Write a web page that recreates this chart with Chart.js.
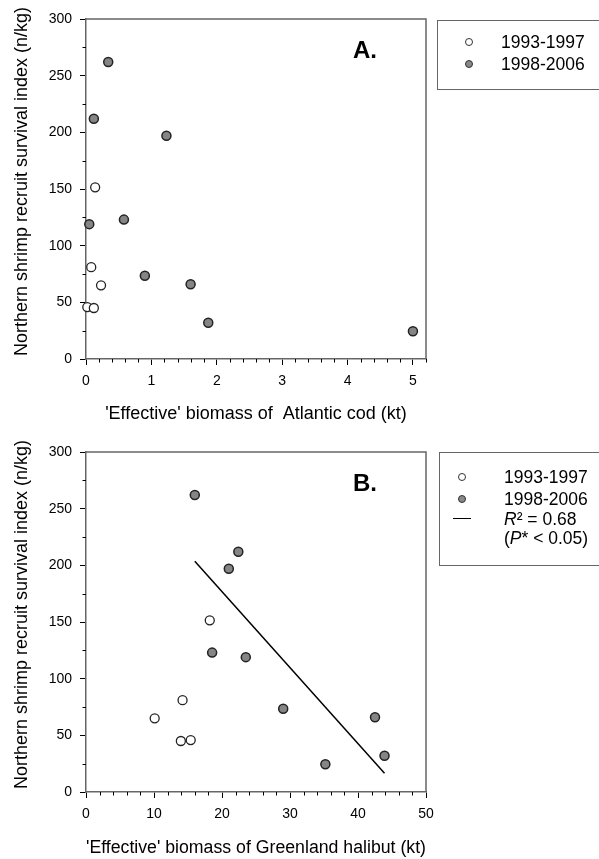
<!DOCTYPE html>
<html><head><meta charset="utf-8">
<script src="https://cdn.jsdelivr.net/npm/chart.js@4"></script>
<style>
body{margin:0;background:#fff;width:599px;height:859px;overflow:hidden;position:relative;font-family:"Liberation Sans",Arial,sans-serif;color:#000}
canvas{position:absolute;left:0}
#cA{top:0}
#cB{top:432px}
.lg{position:absolute;border:1.5px solid #666;background:#fff;box-sizing:border-box}
.row{position:absolute;font-size:17.5px;line-height:20px;white-space:nowrap}
.mk{position:absolute;width:8px;height:8px;border-radius:50%;box-sizing:border-box;border:1px solid #333}
.ln{position:absolute;height:0;border-top:1.5px solid #000}
.panel{position:absolute;font-weight:bold;font-size:24px;line-height:24px}
</style></head>
<body>
<canvas id="cA" width="599" height="430"></canvas>
<canvas id="cB" width="599" height="427"></canvas>

<div class="lg" style="left:437px;top:20px;width:170px;height:70px"></div>
<div class="mk" style="left:465px;top:38px;background:#fff"></div>
<div class="mk" style="left:465px;top:60px;background:#888"></div>
<div class="row" style="left:501px;top:32px">1993-1997</div>
<div class="row" style="left:501px;top:54px">1998-2006</div>
<div class="panel" style="left:353px;top:38px">A.</div>

<div class="lg" style="left:439px;top:452px;width:170px;height:114px"></div>
<div class="mk" style="left:458px;top:473px;background:#fff"></div>
<div class="mk" style="left:458px;top:495px;background:#888"></div>
<div class="ln" style="left:453px;top:518px;width:18px"></div>
<div class="row" style="left:504px;top:467px">1993-1997</div>
<div class="row" style="left:504px;top:489px">1998-2006</div>
<div class="row" style="left:504px;top:509px"><i>R</i>² = 0.68</div>
<div class="row" style="left:504px;top:528px">(<i>P</i>* &lt; 0.05)</div>
<div class="panel" style="left:353px;top:471px">B.</div>

<script>
// ---- data ----
const seriesNames = ["1993-1997", "1998-2006"];
const survEarly = [151.5, 81, 65, 45.8, 45.0];
const survLate  = [262, 212, 197, 119, 123, 73.5, 66, 32, 24.5];
const codEarly  = [0.14, 0.08, 0.23, 0.02, 0.12];
const codLate   = [0.34, 0.12, 1.23, 0.05, 0.58, 0.90, 1.60, 1.87, 5.00];
const halEarly  = [18.2, 14.2, 10.1, 15.4, 13.95];
const halLate   = [16.0, 22.4, 21.0, 23.5, 18.55, 29.0, 42.5, 43.9, 35.2];
const fitX = [16.0, 43.9];
const fitY = [203.5, 16.5];
const yTickLabels = [0, 50, 100, 150, 200, 250, 300];
const codTickLabels = [0, 1, 2, 3, 4, 5];
const halTickLabels = [0, 10, 20, 30, 40, 50];

const yTitle = "   Northern shrimp recruit survival index (n/kg)";
const codTitle = "'Effective' biomass of  Atlantic cod (kt)";
const halTitle = "'Effective' biomass of Greenland halibut (kt)";

const pts = (xs, ys) => xs.map((x, i) => ({x: x, y: ys[i]}));
const FONT = '"Liberation Sans", Arial, sans-serif';

const framePlugin = {
  id: 'frame',
  afterDraw(chart, args, o) {
    const {ctx, chartArea: a, scales} = chart;
    const x = scales.x, y = scales.y;
    ctx.save();
    ctx.strokeStyle = '#000';
    ctx.lineWidth = 1;
    ctx.beginPath();
    const nx = Math.round((o.xMax - o.xMin) / o.xMinor);
    for (let i = 0; i <= nx; i++) {
      const v = o.xMin + i * o.xMinor;
      if (Math.abs(v / o.xMajor - Math.round(v / o.xMajor)) < 1e-6) continue;
      const px = Math.round(x.getPixelForValue(v)) + 0.5;
      ctx.moveTo(px, a.bottom); ctx.lineTo(px, a.bottom + 3.5);
    }
    const ny = Math.round((o.yMax - o.yMin) / o.yMinor);
    for (let i = 0; i <= ny; i++) {
      const v = o.yMin + i * o.yMinor;
      if (Math.abs(v / o.yMajor - Math.round(v / o.yMajor)) < 1e-6) continue;
      const py = Math.round(y.getPixelForValue(v)) + 0.5;
      ctx.moveTo(a.left, py); ctx.lineTo(a.left - 3.5, py);
    }
    ctx.stroke();
    ctx.strokeStyle = '#666';
    ctx.lineWidth = 1.5;
    ctx.beginPath();
    ctx.moveTo(a.left, a.top); ctx.lineTo(a.right, a.top); ctx.lineTo(a.right, a.bottom);
    ctx.stroke();
    ctx.restore();
  }
};

function makeChart(id, datasets, xCfg, xTitleText, xTitlePad, xAxisH, topPad) {
  return new Chart(document.getElementById(id), {
    type: 'scatter',
    data: {datasets: datasets},
    options: {
      responsive: false,
      animation: false,
      devicePixelRatio: 1,
      layout: {padding: {left: 0, top: topPad, right: 173, bottom: 0}},
      plugins: {
        legend: {display: false},
        tooltip: {enabled: false},
        frame: {xMin: xCfg.min, xMax: xCfg.max, xMajor: xCfg.step, xMinor: xCfg.minor,
                yMin: 0, yMax: 300, yMajor: 50, yMinor: 25}
      },
      scales: {
        x: {
          type: 'linear', min: xCfg.min, max: xCfg.max,
          afterFit: s => { s.height = xAxisH; },
          afterBuildTicks: s => { s.ticks = xCfg.labels.map(v => ({value: v})); },
          ticks: {stepSize: xCfg.step, includeBounds: false, padding: 8, color: '#000',
                  font: {family: FONT, size: 14}, maxRotation: 0, autoSkip: false},
          grid: {drawOnChartArea: false, tickLength: 6, tickColor: '#000', tickWidth: 1},
          border: {color: '#666', width: 1.5},
          title: {display: true, text: xTitleText, color: '#000',
                  font: {family: FONT, size: 18}, padding: {top: 0, bottom: xTitlePad}}
        },
        y: {
          type: 'linear', min: 0, max: 300,
          afterFit: s => { s.width = 86; },
          afterBuildTicks: s => { s.ticks = yTickLabels.map(v => ({value: v})); },
          ticks: {stepSize: 50, padding: 8, color: '#000', font: {family: FONT, size: 14}},
          grid: {drawOnChartArea: false, tickLength: 6, tickColor: '#000', tickWidth: 1},
          border: {color: '#666', width: 1.5},
          title: {display: true, text: yTitle, color: '#000',
                  font: {family: FONT, size: 18}, padding: {top: 11, bottom: 0}}
        }
      }
    },
    plugins: [framePlugin]
  });
}

const openStyle = {backgroundColor: '#fff', borderColor: '#222', pointRadius: 4.5, borderWidth: 1.3, clip: false};
const fillStyle = {backgroundColor: '#858585', borderColor: '#222', pointRadius: 4.5, borderWidth: 1.5, clip: false};

makeChart('cA', [
  Object.assign({label: seriesNames[0], data: pts(codEarly, survEarly)}, openStyle),
  Object.assign({label: seriesNames[1], data: pts(codLate, survLate)}, fillStyle)
], {min: 0, max: 5.2, step: 1, minor: 0.2, labels: codTickLabels}, codTitle, 5, 71, 19);

makeChart('cB', [
  Object.assign({label: seriesNames[0], data: pts(halEarly, survEarly)}, openStyle),
  Object.assign({label: seriesNames[1], data: pts(halLate, survLate)}, fillStyle),
  {type: 'line', label: 'fit', data: pts(fitX, fitY), borderColor: '#000', borderWidth: 1.5,
   pointRadius: 0, fill: false, showLine: true, clip: false}
], {min: 0, max: 50, step: 10, minor: 2, labels: halTickLabels}, halTitle, 0, 67, 20);
</script>
</body></html>
